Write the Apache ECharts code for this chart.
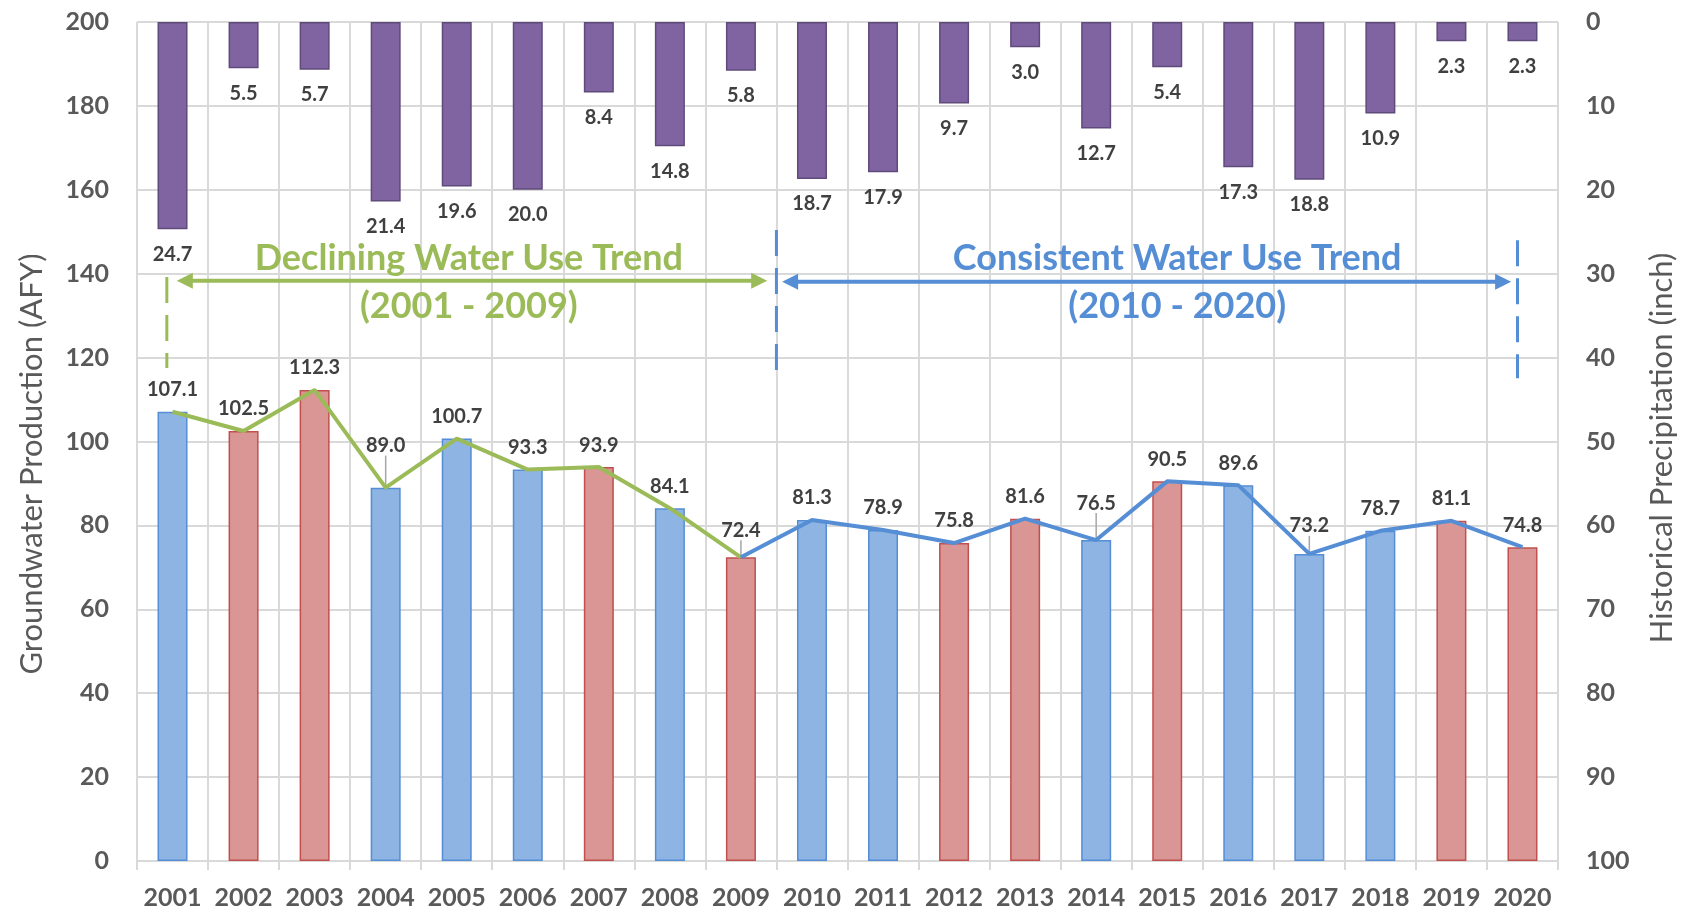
<!DOCTYPE html>
<html>
<head>
<meta charset="utf-8">
<script src="https://cdn.jsdelivr.net/npm/echarts@6/dist/echarts.min.js"></script>
<style>
html, body { margin: 0; padding: 0; background: #fff; }
#main { width: 1685px; height: 914px; }
</style>
</head>
<body>
<div id="main"></div>
<script>
// data
var years = ['2001', '2002', '2003', '2004', '2005', '2006', '2007', '2008', '2009', '2010',
             '2011', '2012', '2013', '2014', '2015', '2016', '2017', '2018', '2019', '2020'];
var production = [107.1, 102.5, 112.3, 89.0, 100.7, 93.3, 93.9, 84.1, 72.4, 81.3,
                  78.9, 75.8, 81.6, 76.5, 90.5, 89.6, 73.2, 78.7, 81.1, 74.8];
var precipitation = [24.7, 5.5, 5.7, 21.4, 19.6, 20.0, 8.4, 14.8, 5.8, 18.7,
                     17.9, 9.7, 3.0, 12.7, 5.4, 17.3, 18.8, 10.9, 2.3, 2.3];
var yearType = ['wet', 'dry', 'dry', 'wet', 'wet', 'wet', 'dry', 'wet', 'dry', 'wet',
                'wet', 'dry', 'dry', 'wet', 'dry', 'wet', 'wet', 'wet', 'dry', 'dry'];
var declineEnd = 8;   // 2009: last year of the declining trend

var barColors = {
    wet: { color: '#8DB4E2', borderColor: '#558ED5', borderWidth: 1.5 },
    dry: { color: '#DA9694', borderColor: '#C0504D', borderWidth: 1.5 }
};
// labels that were pulled up off the trend line (px), with a leader line
var labelLift = { '2004': 20, '2009': 5, '2014': 15, '2017': 6 };
var green = '#9BBB59', blue = '#558ED5';
var axisText = { fontFamily: 'Lato', fontWeight: 'bold', fontSize: 25, color: '#595959' };
var valueLabel = { fontFamily: 'Lato', fontWeight: 'bold', fontSize: 20, color: '#404040' };

var myChart = echarts.init(document.getElementById('main'));

var option = {
    animation: false,
    grid: { left: 137, right: 126, top: 22, bottom: 53 },
    xAxis: {
        type: 'category',
        data: years,
        axisLine: { lineStyle: { color: '#D9D9D9', width: 2 } },
        axisTick: { show: true, length: 9, lineStyle: { color: '#D9D9D9', width: 2 } },
        splitLine: { show: true, lineStyle: { color: '#D9D9D9', width: 2 } },
        axisLabel: Object.assign({ margin: 24, interval: 0 }, axisText)
    },
    yAxis: [
        {
            type: 'value', min: 0, max: 200, interval: 20,
            name: 'Groundwater Production (AFY)',
            nameLocation: 'middle', nameRotate: 90, nameGap: 90,
            nameTextStyle: { fontFamily: 'Lato', fontSize: 31, color: '#595959', padding: [0, 45, 0, 0] },
            axisLine: { show: false },
            axisTick: { show: false },
            splitLine: { lineStyle: { color: '#D9D9D9', width: 2 } },
            axisLabel: Object.assign({ margin: 28 }, axisText)
        },
        {
            type: 'value', min: 0, max: 100, interval: 10, inverse: true,
            name: 'Historical Precipitation (inch)',
            nameLocation: 'middle', nameRotate: 90, nameGap: 88,
            nameTextStyle: { fontFamily: 'Lato', fontSize: 31, color: '#595959', padding: [0, 13, 0, 0] },
            axisLine: { show: false },
            axisTick: { show: false },
            splitLine: { show: false },
            axisLabel: Object.assign({ margin: 28 }, axisText)
        }
    ],
    series: [
        {
            name: 'Groundwater Production',
            type: 'bar',
            barWidth: 30,
            barGap: '-100%',
            data: production.map(function (v, i) {
                var item = { value: v, itemStyle: barColors[yearType[i]] };
                if (labelLift[years[i]]) {
                    item.labelLine = { show: true };
                }
                return item;
            }),
            label: Object.assign({
                show: true, position: 'top', distance: 12,
                formatter: function (p) { return p.value.toFixed(1); }
            }, valueLabel),
            labelLayout: function (p) {
                var lift = labelLift[years[p.dataIndex]];
                return lift ? { dy: -lift } : {};
            },
            labelLine: { show: false, lineStyle: { color: '#A6A6A6', width: 1.5 } },
            z: 2
        },
        {
            name: 'Historical Precipitation',
            type: 'bar',
            yAxisIndex: 1,
            barWidth: 30,
            barGap: '-100%',
            data: precipitation,
            itemStyle: { color: '#8064A2', borderColor: '#5F4B7B', borderWidth: 1.5 },
            label: Object.assign({
                show: true, position: 'bottom', distance: 15,
                formatter: function (p) { return p.value.toFixed(1); }
            }, valueLabel),
            z: 2
        },
        {
            name: 'Declining Trend',
            type: 'line',
            data: production.map(function (v, i) { return i <= declineEnd ? v : null; }),
            symbol: 'none',
            lineStyle: { color: green, width: 4 },
            z: 3
        },
        {
            name: 'Consistent Trend',
            type: 'line',
            data: production.map(function (v, i) { return i >= declineEnd ? v : null; }),
            symbol: 'none',
            lineStyle: { color: blue, width: 4 },
            z: 3
        }
    ]
};
myChart.setOption(option);

// trend annotations, placed in axis units (category index, left-axis value)
var notes = [
    { color: green, title: 'Declining Water Use Trend', sub: '(2001 - 2009)',
      textAt: 4.17, arrow: [0.06, 8.37], arrowY: 138.3,
      dashes: [[-0.08, 139.2, 117.5]] },
    { color: blue, title: 'Consistent Water Use Trend', sub: '(2010 - 2020)',
      textAt: 14.14, arrow: [8.58, 18.84], arrowY: 138.1,
      dashes: [[8.5, 150.4, 115.8], [18.93, 148, 115.1]] }
];

function drawNotes() {
    var x0 = myChart.convertToPixel({ xAxisIndex: 0 }, years[0]);
    var x1 = myChart.convertToPixel({ xAxisIndex: 0 }, years[1]);
    var band = x1 - x0;
    function px(i) { return x0 + i * band; }
    function py(v) { return myChart.convertToPixel({ yAxisIndex: 0 }, v); }
    var els = [];
    var headL = 16, headW = 8;
    notes.forEach(function (n) {
        var xa = px(n.arrow[0]), xb = px(n.arrow[1]), y = py(n.arrowY);
        els.push({ type: 'line', z: 10, shape: { x1: xa + headL - 2, y1: y, x2: xb - headL + 2, y2: y },
                   style: { stroke: n.color, lineWidth: 4 } });
        els.push({ type: 'polygon', z: 10, shape: { points: [[xa, y], [xa + headL, y - headW], [xa + headL, y + headW]] },
                   style: { fill: n.color } });
        els.push({ type: 'polygon', z: 10, shape: { points: [[xb, y], [xb - headL, y - headW], [xb - headL, y + headW]] },
                   style: { fill: n.color } });
        n.dashes.forEach(function (d) {
            els.push({ type: 'line', z: 10, shape: { x1: px(d[0]), y1: py(d[1]), x2: px(d[0]), y2: py(d[2]) },
                       style: { stroke: n.color, lineWidth: 3, lineDash: [26, 12] } });
        });
        els.push({ type: 'text', z: 11, x: px(n.textAt), y: py(143.7),
                   style: { text: n.title, fill: n.color, font: 'bold 36px Lato', align: 'center', verticalAlign: 'middle' } });
        els.push({ type: 'text', z: 11, x: px(n.textAt), y: py(132.3),
                   style: { text: n.sub, fill: n.color, font: 'bold 36px Lato', align: 'center', verticalAlign: 'middle' } });
    });
    myChart.setOption({ graphic: els });
}
drawNotes();
</script>
</body>
</html>
